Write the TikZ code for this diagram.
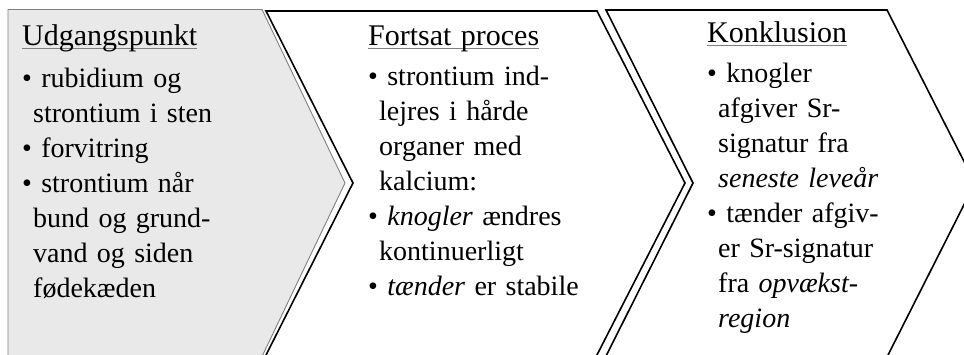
\documentclass[tikz,border=0pt]{standalone}
\usepackage{fontspec}
\setmainfont{Liberation Serif}
\definecolor{chevgray}{HTML}{E9E9E9}
\definecolor{edgegray}{HTML}{808080}
\newsavebox{\headbox}
\newcommand\headul[1]{\sbox{\headbox}{#1}\rlap{\textcolor{edgegray}{\rule[-3.5pt]{\wd\headbox}{0.9pt}}}\usebox{\headbox}}
\newcommand\hd[1]{{\fontsize{30}{35}\selectfont\headul{#1}}}
\newcommand\cont{\hspace*{11pt}}
\tikzset{
  txt/.style={anchor=base west, inner sep=0pt, text width=260pt, align=left,
              font=\fontsize{28}{35}\selectfont},
  chevdark/.style={draw=black, line width=1.6pt, fill=white, line join=miter},
  chevlight/.style={draw=edgegray, line width=0.9pt, fill=chevgray, line join=miter},
}
\begin{document}
\begin{tikzpicture}[x=1pt,y=-1pt]
\useasboundingbox (0,0) rectangle (964,354);
\clip (0,0) rectangle (964,354);
% chevrons
\draw[chevlight] (8,9.5) -- (262,9.5) -- (345,183) -- (261.3,358) -- (8,358) -- cycle;
\draw[chevdark] (266,11) -- (597,11) -- (685,183) -- (595.4,358) -- (264.5,358) -- (353,183) -- cycle;
\draw[chevdark] (606,10) -- (887,10) -- (975,183) -- (886.5,358) -- (605,358) -- (693,183) -- cycle;
% texts
\node[txt] (t1) at (22,45) {\hd{Udgangspunkt}\\[7pt]
\textbullet\ rubidium og\\
\cont strontium i sten\\
\textbullet\ forvitring\\
\textbullet\ strontium når\\
\cont bund og grund-\\
\cont vand og siden\\
\cont fødekæden};
\node[txt] (t2) at (368,45) {\hd{Fortsat proces}\\[5pt]
\textbullet\ strontium ind-\\
\cont lejres i hårde\\
\cont organer med\\
\cont kalcium:\\
\textbullet\ \textit{knogler} ændres\\
\cont kontinuerligt\\
\textbullet\ \textit{tænder} er stabile};
\node[txt] (t3) at (707,42) {\hd{Konklusion}\\[5pt]
\textbullet\ knogler\\
\cont afgiver Sr-\\
\cont signatur fra\\
\cont \textit{seneste leveår}\\
\textbullet\ tænder afgiv-\\
\cont er Sr-signatur\\
\cont fra \textit{opvækst-}\\
\cont \textit{region}};
\end{tikzpicture}
\end{document}
